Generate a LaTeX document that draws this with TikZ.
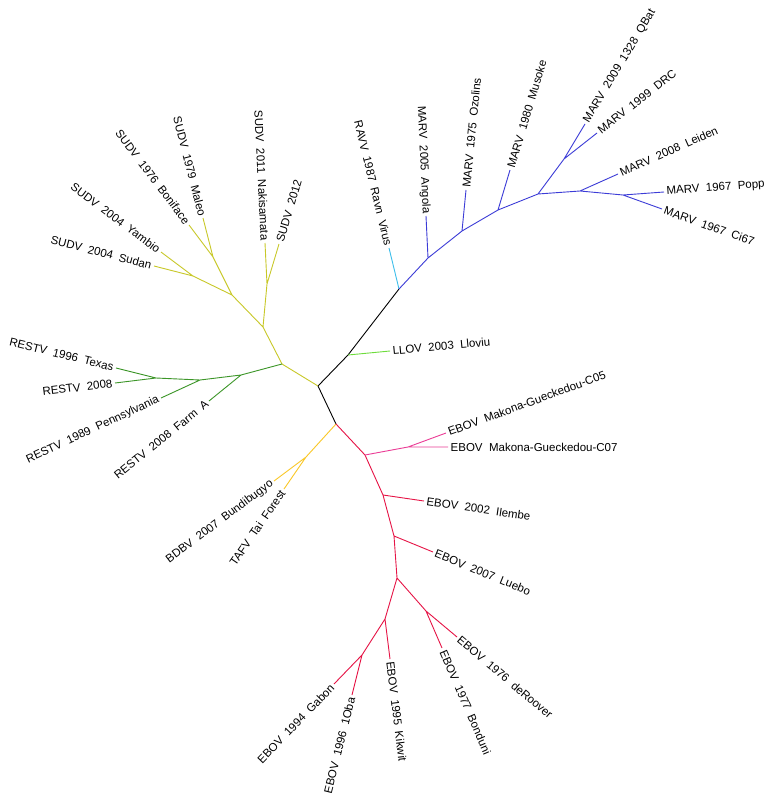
\documentclass[tikz,border=0pt]{standalone}
\usepackage{fontspec}
\setmainfont{Liberation Sans}
\begin{document}
\begin{tikzpicture}[x=1pt,y=-1pt,
  br/.style={line width=0.9pt},
  lab/.style={inner sep=2.5pt,font=\fontsize{11.5}{13}\selectfont},
  W/.style={lab,anchor=west,rotate=#1},
  E/.style={lab,anchor=east,rotate=#1}]
\useasboundingbox[fill=white] (0,0) rectangle (772,800);
\definecolor{cb}{RGB}{60,60,215}\definecolor{cc}{RGB}{60,190,235}
\definecolor{cl}{RGB}{110,220,60}\definecolor{cs}{RGB}{200,200,40}
\definecolor{cg}{RGB}{60,150,40}\definecolor{cy}{RGB}{250,200,40}
\definecolor{cr}{RGB}{230,20,70}\definecolor{cp}{RGB}{235,60,150}
% internal nodes
\foreach \n/\x/\y in {r/318/386,a/348/355,b/399/289,m1/428/258,m2/462/231,m3/498/210,m4/538/194,m5/564/159,m6/580/191,m7/623/195,
 s0/282/364,s1/263/327,s2/267/284,s3/232/295,s4/213/257,s5/193/276,g1/241/375,g2/200/380,g3/156/378,
 e0/336/424,t1/306/457,e1/365/455,k1/408/447,e2/383/495,e3/394/536,e4/397/578,e5/426/611,e6/385/619,e7/362/655}
 \coordinate (\n) at (\x,\y);
% leaves
\foreach \n/\x/\y in {LL/390/351,RA/389/248,An/426/216,Oz/466/190,Mu/510/170,QB/585/124,DR/597/133,Le/618/174,Po/664/192,Ci/662/209,
 C5/446/433,C7/448/447,Il/424/501,Lu/433/552,dR/457/637,Bo/442/648,Ki/390/659,Ga/334/684,Ob/352/695,Bu/274/481,Ta/284/489,
 Fa/209/401,Pe/161/398,R8/115/383,Tx/116/368,Su/154/266,Ya/161/252,Bn/189/225,Ma/203/218,Na/265/243,S2/279/244}
 \coordinate (\n) at (\x,\y);
\draw[br,black] (r)--(a)--(b) (r)--(e0);
\draw[br,cl] (a)--(LL);
\draw[br,cc] (b)--(RA);
\draw[br,cb] (b)--(m1)--(m2)--(m3)--(m4)--(m5)--(QB) (m5)--(DR) (m4)--(m6)--(Le) (m6)--(m7)--(Po) (m7)--(Ci)
 (m1)--(An) (m2)--(Oz) (m3)--(Mu);
\draw[br,cs] (r)--(s0)--(s1)--(s2)--(Na) (s2)--(S2) (s1)--(s3)--(s4)--(Ma) (s4)--(Bn) (s3)--(s5)--(Ya) (s5)--(Su);
\draw[br,cg] (s0)--(g1)--(Fa) (g1)--(g2)--(Pe) (g2)--(g3)--(Tx) (g3)--(R8);
\draw[br,cy] (e0)--(t1)--(Bu) (t1)--(Ta);
\draw[br,cr] (e0)--(e1)--(e2)--(e3)--(e4)--(e5)--(dR) (e5)--(Bo) (e4)--(e6)--(Ki) (e6)--(e7)--(Ga) (e7)--(Ob)
 (e2)--(Il) (e3)--(Lu);
\draw[br,cp] (e1)--(k1)--(C5) (k1)--(C7);
% labels
\node[W=5.4] at (LL) {LLOV\ \ 2003\ \ Lloviu};
\node[E=-76.3] at (RA) {RAVV\ \ 1987\ \ Ravn\ \ Virus};
\node[E=-87.3] at (An) {MARV\ \ 2005\ \ Angola};
\node[W=84.4] at (Oz) {MARV\ \ 1975\ \ Ozolins};
\node[W=73.3] at (Mu) {MARV\ \ 1980\ \ Musoke};
\node[W=59] at (QB) {MARV\ \ 2009\ \ 1328\ \ QBat};
\node[W=38.2] at (DR) {MARV\ \ 1999\ \ DRC};
\node[W=24.1] at (Le) {MARV\ \ 2008\ \ Leiden};
\node[W=4.2] at (Po) {MARV\ \ 1967\ \ Popp};
\node[W=-19.7] at (Ci) {MARV\ \ 1967\ \ Ci67};
\node[W=20.2] at (C5) {EBOV\ \ Makona-Gueckedou-C05};
\node[W=0] at (C7) {EBOV\ \ Makona-Gueckedou-C07};
\node[W=-8.3] at (Il) {EBOV\ \ 2002\ \ Ilembe};
\node[W=-22.3] at (Lu) {EBOV\ \ 2007\ \ Luebo};
\node[W=-40] at (dR) {EBOV\ \ 1976\ \ deRoover};
\node[W=-66.6] at (Bo) {EBOV\ \ 1977\ \ Bonduni};
\node[W=-82.9] at (Ki) {EBOV\ \ 1995\ \ Kikwit};
\node[E=46] at (Ga) {EBOV\ \ 1994\ \ Gabon};
\node[E=76] at (Ob) {EBOV\ \ 1996\ \ 1Oba};
\node[E=37] at (Bu) {BDBV\ \ 2007\ \ Bundibugyo};
\node[E=55.5] at (Ta) {TAFV\ \ Tai\ \ Forest};
\node[E=39] at (Fa) {RESTV\ \ 2008\ \ Farm\ \ A};
\node[E=25] at (Pe) {RESTV\ \ 1989\ \ Pennsylvania};
\node[E=7] at (R8) {RESTV\ \ 2008};
\node[E=-14] at (Tx) {RESTV\ \ 1996\ \ Texas};
\node[E=-14.4] at (Su) {SUDV\ \ 2004\ \ Sudan};
\node[E=-37] at (Ya) {SUDV\ \ 2004\ \ Yambio};
\node[E=-53] at (Bn) {SUDV\ \ 1976\ \ Boniface};
\node[E=-75.6] at (Ma) {SUDV\ \ 1979\ \ Maleo};
\node[E=-87.2] at (Na) {SUDV\ \ 2011\ \ Nakisamata};
\node[W=73.3] at (S2) {SUDV\ \ 2012};
\end{tikzpicture}
\end{document}
